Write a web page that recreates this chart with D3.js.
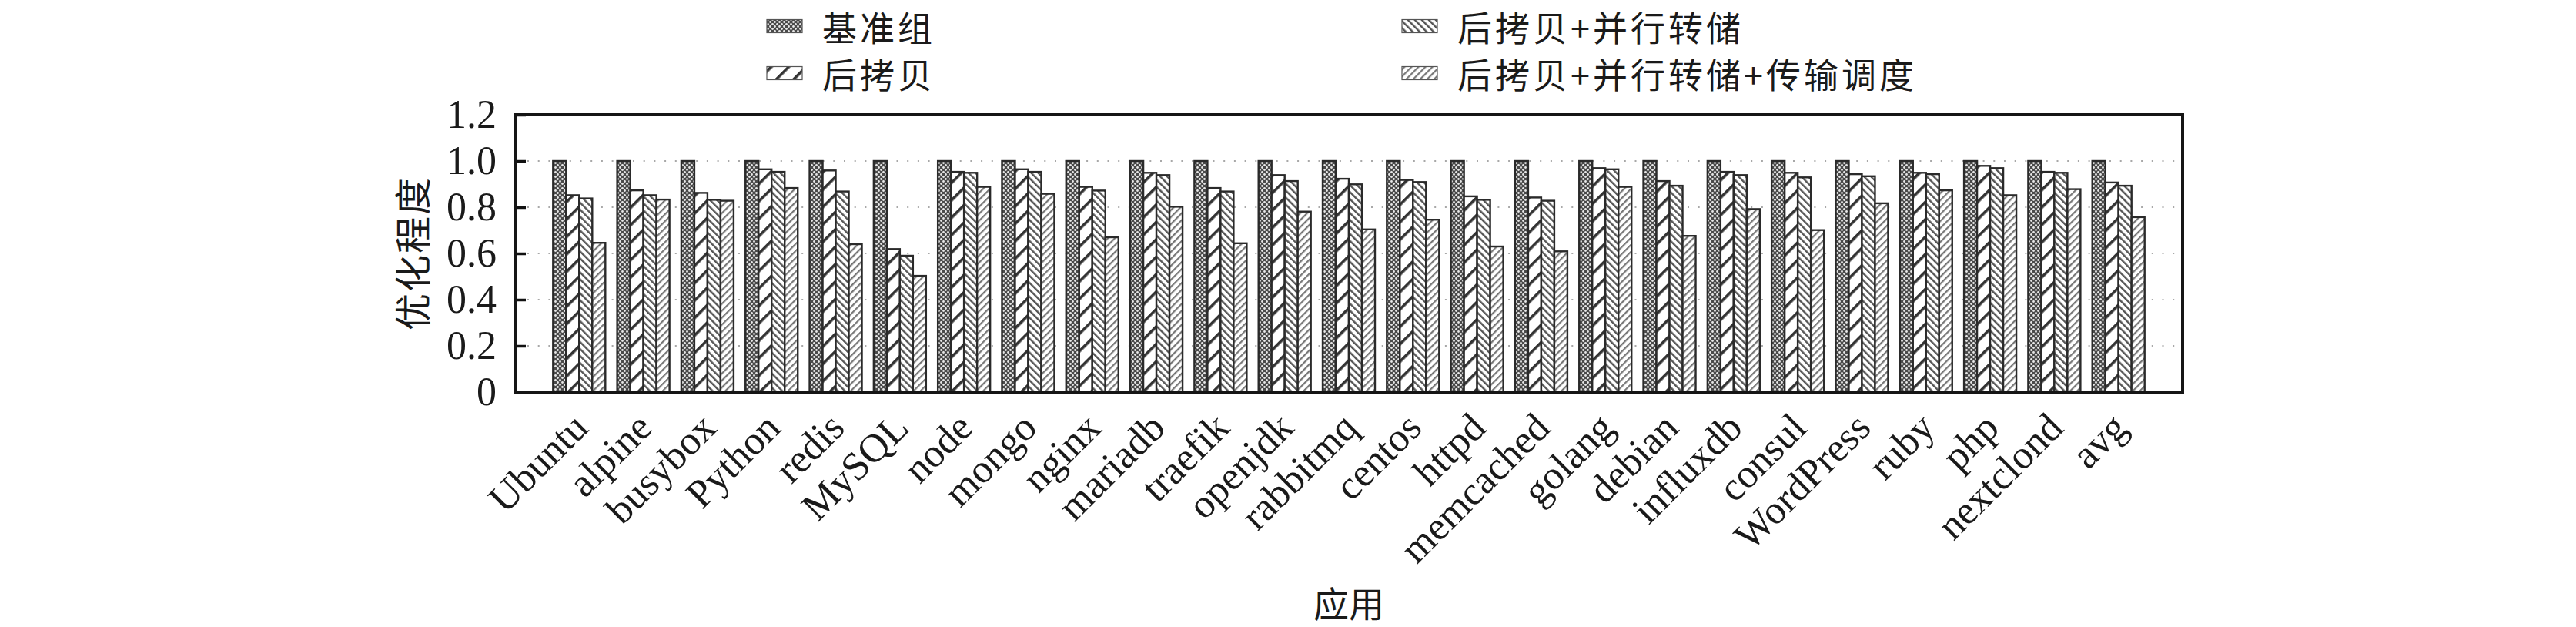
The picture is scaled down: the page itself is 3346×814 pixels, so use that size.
<!DOCTYPE html>
<html>
<head>
<meta charset="utf-8">
<script src="https://cdn.jsdelivr.net/npm/d3@7"></script>
<style>
  body { margin: 0; background: #fff; }
  svg { display: block; }
</style>
</head>
<body>
<div id="chart"></div>
<script>
// categories and series
var apps = ["Ubuntu", "alpine", "busybox", "Python", "redis", "MySQL", "node", "mongo",
    "nginx", "mariadb", "traefik", "openjdk", "rabbitmq", "centos", "httpd", "memcached",
    "golang", "debian", "influxdb", "consul", "WordPress", "ruby", "php", "nextclond", "avg"];

var seriesNames = ["基准组", "后拷贝", "后拷贝+并行转储", "后拷贝+并行转储+传输调度"];

var baseline = [1, 1, 1, 1, 1, 1, 1, 1, 1, 1, 1, 1, 1, 1, 1, 1, 1, 1, 1, 1, 1, 1, 1, 1, 1];
var postCopy = [0.852, 0.873, 0.862, 0.964, 0.959, 0.619, 0.953, 0.964, 0.888, 0.949, 0.883, 0.939,
    0.923, 0.918, 0.847, 0.842, 0.969, 0.913, 0.953, 0.949, 0.943, 0.949, 0.979, 0.953, 0.907];
var postCopyDump = [0.838, 0.852, 0.832, 0.953, 0.868, 0.590, 0.949, 0.953, 0.872, 0.939, 0.868, 0.913,
    0.899, 0.909, 0.832, 0.828, 0.964, 0.893, 0.939, 0.929, 0.934, 0.943, 0.969, 0.949, 0.893];
var postCopyDumpSched = [0.646, 0.833, 0.828, 0.883, 0.640, 0.503, 0.888, 0.858, 0.670, 0.802, 0.644, 0.781,
    0.704, 0.746, 0.630, 0.609, 0.888, 0.676, 0.792, 0.701, 0.817, 0.873, 0.852, 0.878, 0.757];

var yTicks = [0, 0.2, 0.4, 0.6, 0.8, 1.0, 1.2];

var allSeries = [baseline, postCopy, postCopyDump, postCopyDumpSched];

// canvas
var svgWidth = 3346;
var svgHeight = 814;
var plot = { left: 669, right: 2835, top: 149, bottom: 509 };

var svg = d3.select("#chart")
    .append("svg")
    .attr("width", svgWidth)
    .attr("height", svgHeight);

svg.append("rect")
    .attr("width", svgWidth)
    .attr("height", svgHeight)
    .attr("fill", "#fff");

// fill patterns (gnuplot style)
var defs = svg.append("defs");

var p0 = defs.append("pattern")
    .attr("id", "pat0")
    .attr("patternUnits", "userSpaceOnUse")
    .attr("width", 6)
    .attr("height", 6);
p0.append("rect").attr("width", 6).attr("height", 6).attr("fill", "#4a4a4a");
p0.append("circle").attr("cx", 1.5).attr("cy", 1.5).attr("r", 1.4).attr("fill", "#e8e8e8");
p0.append("circle").attr("cx", 4.5).attr("cy", 4.5).attr("r", 1.4).attr("fill", "#e8e8e8");

function stripes(id, size, lineW, color, angle) {
    var p = defs.append("pattern")
        .attr("id", id)
        .attr("patternUnits", "userSpaceOnUse")
        .attr("width", size)
        .attr("height", size)
        .attr("patternTransform", "rotate(" + angle + ")");
    p.append("rect").attr("width", size).attr("height", size).attr("fill", "#fff");
    p.append("rect").attr("x", 0).attr("width", lineW).attr("height", size).attr("fill", color);
}
stripes("pat1", 16, 3.6, "#333", 45);
stripes("pat2", 6.4, 2.4, "#555", -45);
stripes("pat3", 6.4, 2.2, "#777", 45);

var fills = ["url(#pat0)", "url(#pat1)", "url(#pat2)", "url(#pat3)"];

// scales
var xScale = d3.scalePoint()
    .domain(apps)
    .range([plot.left, plot.right])
    .padding(1);

var groupWidth = xScale.step() * 68 / 83.33;
var inner = d3.scaleBand()
    .domain(d3.range(seriesNames.length))
    .range([-groupWidth / 2, groupWidth / 2]);

var yScale = d3.scaleLinear()
    .domain([0, 1.2])
    .range([plot.bottom, plot.top]);

// dotted grid
svg.append("g")
    .selectAll("line")
    .data(yTicks.filter(function(t) { return t > 0 && t < 1.2; }))
    .enter()
    .append("line")
    .attr("x1", plot.left + 16)
    .attr("x2", plot.right - 2)
    .attr("y1", function(d) { return yScale(d); })
    .attr("y2", function(d) { return yScale(d); })
    .attr("stroke", "#a8a8a8")
    .attr("stroke-width", 2)
    .attr("stroke-dasharray", "2 11.7");

// bars
var barsGroup = svg.append("g");
allSeries.forEach(function(values, s) {
    barsGroup.append("g")
        .selectAll("rect")
        .data(values)
        .enter()
        .append("rect")
        .attr("x", function(d, i) { return xScale(apps[i]) + inner(s); })
        .attr("y", function(d) { return yScale(d); })
        .attr("width", inner.bandwidth())
        .attr("height", function(d) { return yScale(0) - yScale(d); })
        .attr("fill", fills[s])
        .attr("stroke", "#2a2a2a")
        .attr("stroke-width", 2.4);
});

// y axis
var leftAxis = d3.axisLeft(yScale)
    .tickValues(yTicks)
    .tickSize(-14)
    .tickPadding(24)
    .tickFormat(function(d) { return d === 0 ? "0" : d3.format(".1f")(d); });

var yAxis = svg.append("g")
    .attr("transform", "translate(" + plot.left + ",0)")
    .call(leftAxis);
yAxis.select(".domain").remove();
yAxis.selectAll(".tick line").attr("stroke", "#111").attr("stroke-width", 3.5);
yAxis.selectAll(".tick text")
    .attr("font-family", "'Liberation Serif', 'DejaVu Serif', serif")
    .attr("font-size", 52)
    .attr("fill", "#1a1a1a");

// frame
svg.append("rect")
    .attr("x", plot.left)
    .attr("y", plot.top)
    .attr("width", plot.right - plot.left)
    .attr("height", plot.bottom - plot.top)
    .attr("fill", "none")
    .attr("stroke", "#151515")
    .attr("stroke-width", 4);

// x labels, rotated
svg.append("g")
    .selectAll("text")
    .data(apps)
    .enter()
    .append("text")
    .attr("transform", function(d) {
        return "translate(" + (xScale(d) + 14) + "," + 558 + ") rotate(-45)";
    })
    .attr("text-anchor", "end")
    .attr("font-family", "'Liberation Serif', 'DejaVu Serif', serif")
    .attr("font-size", 52)
    .attr("fill", "#1a1a1a")
    .text(function(d) { return d; });

// axis titles
svg.append("text")
    .attr("transform", "translate(533," + ((plot.top + plot.bottom) / 2) + ") rotate(-90)")
    .attr("text-anchor", "middle")
    .attr("dominant-baseline", "central")
    .attr("font-family", "'Noto Sans CJK SC', sans-serif")
    .attr("font-size", 48)
    .attr("letter-spacing", 2)
    .attr("fill", "#1a1a1a")
    .text("优化程度");

svg.append("text")
    .attr("x", (plot.left + plot.right) / 2)
    .attr("y", 781)
    .attr("text-anchor", "middle")
    .attr("dominant-baseline", "central")
    .attr("font-family", "'Noto Sans CJK SC', sans-serif")
    .attr("font-size", 46)
    .attr("fill", "#1a1a1a")
    .text("应用");

// legend, two columns
var legendPos = [
    { x: 996, y: 34 },
    { x: 996, y: 95 },
    { x: 1821, y: 34 },
    { x: 1821, y: 95 }
];
var legend = svg.append("g");
seriesNames.forEach(function(name, i) {
    var p = legendPos[i];
    legend.append("rect")
        .attr("x", p.x)
        .attr("y", p.y - 8.5)
        .attr("width", 46)
        .attr("height", 17)
        .attr("fill", fills[i])
        .attr("stroke", "#555")
        .attr("stroke-width", 1.2);
    legend.append("text")
        .attr("x", p.x + 72)
        .attr("y", p.y)
        .attr("dominant-baseline", "central")
        .attr("font-family", "'Noto Sans CJK SC', sans-serif")
        .attr("font-size", 45)
        .attr("letter-spacing", 4)
        .attr("fill", "#1a1a1a")
        .text(name);
});
</script>
</body>
</html>
